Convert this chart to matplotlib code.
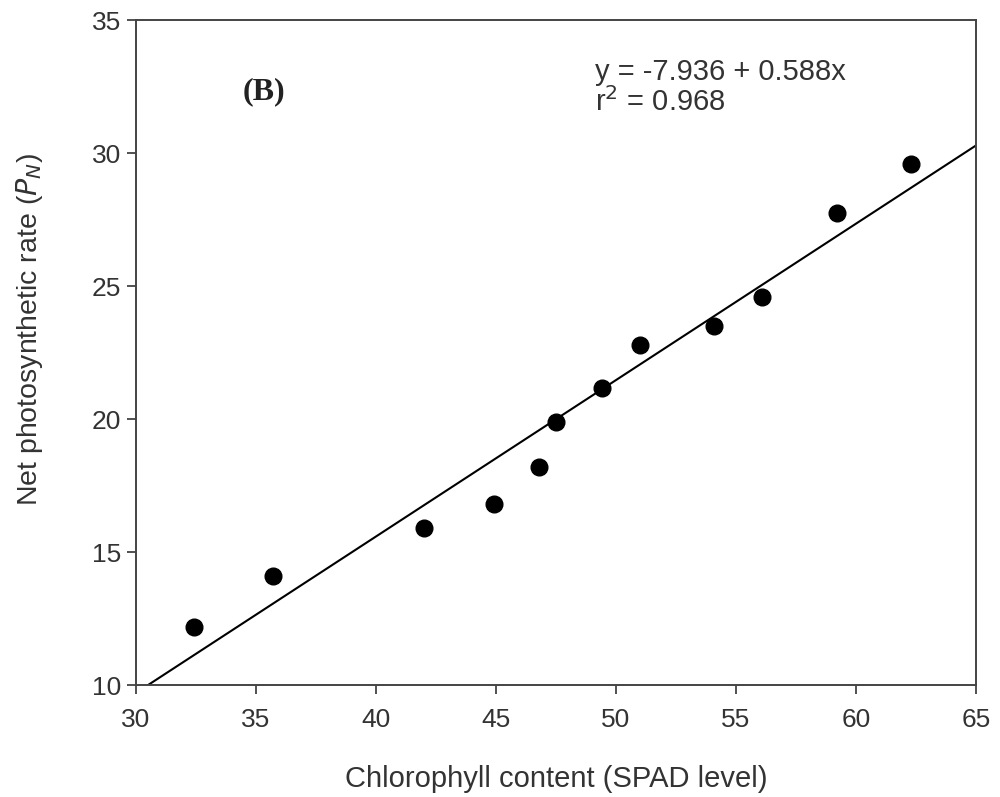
import numpy as np
import matplotlib.pyplot as plt

plt.rcParams['font.family'] = ['Liberation Sans', 'DejaVu Sans']

# chlorophyll (SPAD) vs net photosynthetic rate
spad = [32.4, 35.7, 42.0, 44.9, 46.8, 47.5, 49.4, 51.0, 54.1, 56.1, 59.2, 62.3]
pn = [12.2, 14.1, 15.9, 16.8, 18.2, 19.9, 21.15, 22.8, 23.5, 24.6, 27.75, 29.6]

# fitted line from the printed equation
intercept = -7.936
slope = 0.588
xticks = [30, 35, 40, 45, 50, 55, 60, 65]
yticks = [10, 15, 20, 25, 30, 35]

fig = plt.figure(figsize=(10, 7.97), dpi=100)
ax = fig.add_axes([0.136, 0.1405, 0.84, 0.8344])

xfit = np.array([(10 - intercept) / slope, 65])
ax.plot(xfit, intercept + slope * xfit, color='black', lw=1.5, zorder=2)
ax.plot(spad, pn, 'o', color='black', ms=12, zorder=3)

ax.set_xlim(30, 65)
ax.set_ylim(10, 35)
ax.set_xticks(xticks)
ax.set_yticks(yticks)
ax.tick_params(direction='out', length=6.5, width=1.2, labelsize=19, colors='#333333')
ax.tick_params(axis='x', pad=10)
ax.tick_params(axis='y', pad=4)
for s in ax.spines.values():
    s.set_linewidth(1.4)
    s.set_color('#444444')

ax.set_xlabel('Chlorophyll content (SPAD level)', fontsize=21, color='#333333')
ax.xaxis.label.set_va('center')
ax.xaxis.set_label_coords(0.5, -0.141)
ax.set_ylabel('Net photosynthetic rate ($P_N$)', fontsize=20.5, color='#333333')
ax.yaxis.label.set_va('center')
ax.yaxis.set_label_coords(-0.127, 0.534)

ax.text(0.127, 0.892, '(B)', transform=ax.transAxes, fontsize=23, fontweight='bold',
        family='Liberation Serif', color='#222222', va='center')
ax.text(0.546, 0.899, 'y = -7.936 + 0.588x\nr$^2$ = 0.968', transform=ax.transAxes,
        fontsize=21, color='#333333', va='center', linespacing=1.05)

fig.savefig('out.png', dpi=100)
